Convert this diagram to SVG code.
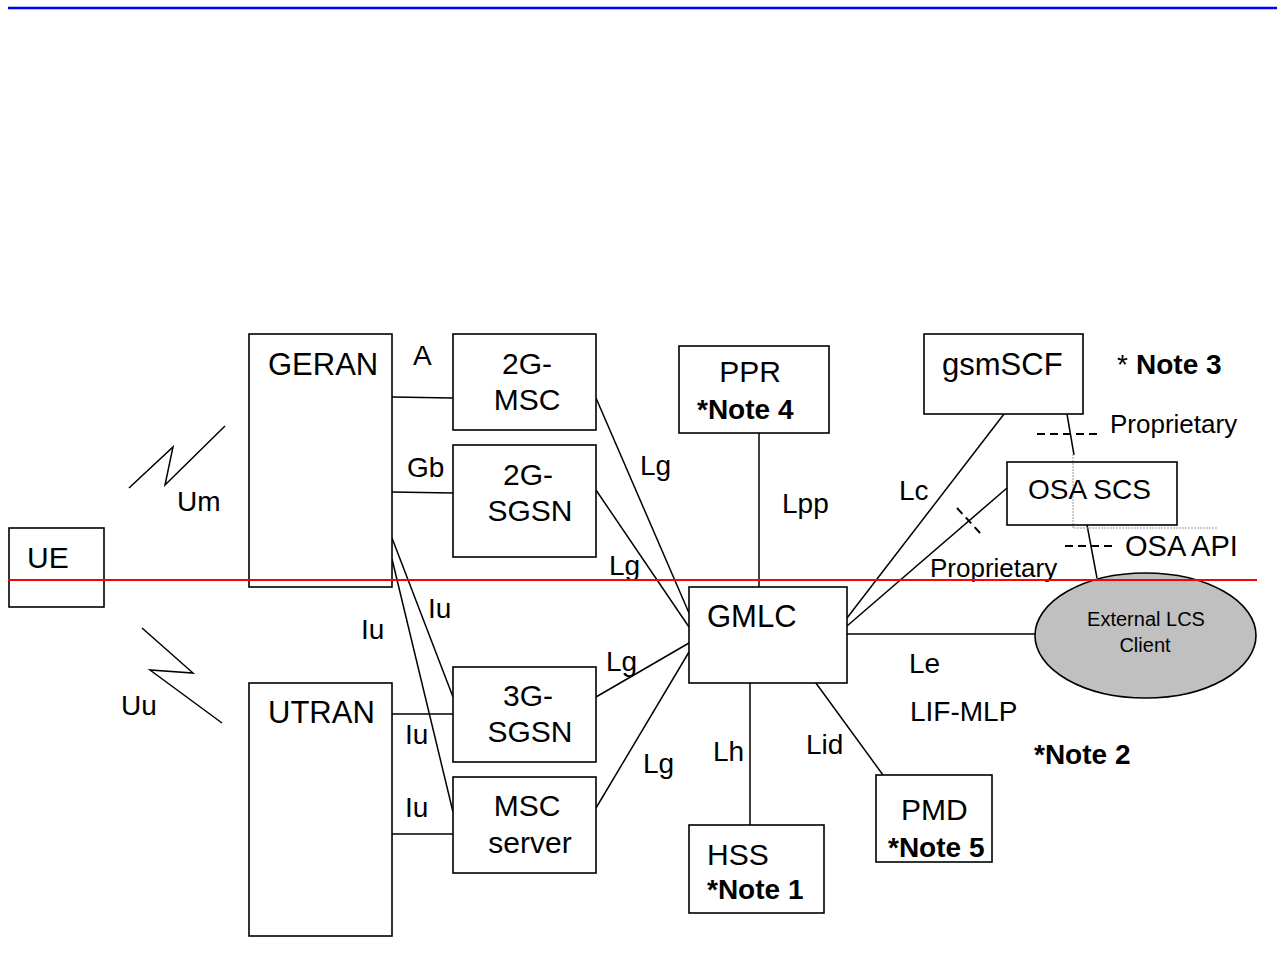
<svg xmlns="http://www.w3.org/2000/svg" width="1282" height="956" viewBox="0 0 1282 956">
<style>
  .box { fill: #fff; stroke: #000; stroke-width: 1.6; }
  .ln { stroke: #000; stroke-width: 1.5; fill: none; }
  .dash { stroke: #000; stroke-width: 2; stroke-dasharray: 8 5; fill: none; }
  text { font-family: "Liberation Sans", Arial, sans-serif; fill: #000; }
  .n { font-size: 30px; }
  .nb { font-size: 31px; }
  .l { font-size: 28px; }
  .b { font-size: 28px; font-weight: bold; }
  .s { font-size: 20px; }
  .m { text-anchor: middle; }
</style>
<rect x="0" y="0" width="1282" height="956" fill="#fff"/>
<line x1="8" y1="8" x2="1277" y2="8" stroke="#0000ff" stroke-width="2.5"/>

<g id="connectors">
  <line class="ln" x1="392" y1="397" x2="453" y2="398"/>
  <line class="ln" x1="392" y1="492" x2="453" y2="493"/>
  <line class="ln" x1="392" y1="538" x2="453" y2="697"/>
  <line class="ln" x1="392" y1="559" x2="453" y2="812"/>
  <line class="ln" x1="392" y1="714" x2="453" y2="714"/>
  <line class="ln" x1="389" y1="834" x2="453" y2="834"/>
  <line class="ln" x1="596" y1="398" x2="689" y2="613"/>
  <line class="ln" x1="596" y1="490" x2="689" y2="627"/>
  <line class="ln" x1="596" y1="697" x2="689" y2="643"/>
  <line class="ln" x1="596" y1="808" x2="689" y2="652"/>
  <line class="ln" x1="759" y1="433" x2="759" y2="587"/>
  <line class="ln" x1="750" y1="683" x2="750" y2="825"/>
  <line class="ln" x1="813" y1="679" x2="883" y2="775"/>
  <line class="ln" x1="1004" y1="414" x2="847" y2="618"/>
  <line class="ln" x1="1007" y1="488" x2="847" y2="626"/>
  <line class="ln" x1="847" y1="634" x2="1035" y2="634"/>
  <line class="ln" x1="1067" y1="414" x2="1074" y2="455"/>
  <line class="ln" x1="1087" y1="525" x2="1097" y2="578"/>
  <line class="dash" x1="957" y1="508" x2="981" y2="534" stroke-dasharray="7 6"/>
  <line class="dash" x1="1037" y1="434" x2="1101" y2="434"/>
  <line class="dash" x1="1065" y1="546" x2="1115" y2="546"/>
  <polyline points="1073,454 1073,528 1218,528" fill="none" stroke="#999" stroke-width="1" stroke-dasharray="2 1"/>
  <polyline class="ln" points="129,488 173,447 165,485 225,426"/>
  <polyline class="ln" points="142,628 193,673 150,670 222,723"/>
</g>

<g id="UE"><rect class="box" x="9" y="528" width="95" height="79"/><text class="n" x="27" y="568">UE</text></g>
<g id="GERAN"><rect class="box" x="249" y="334" width="143" height="253"/><text class="nb" x="268" y="375">GERAN</text></g>
<g id="UTRAN"><rect class="box" x="249" y="683" width="143" height="253"/><text class="nb" x="268" y="723">UTRAN</text></g>
<g id="MSC2G"><rect class="box" x="453" y="334" width="143" height="96"/><text class="n m" x="527" y="374">2G-</text><text class="n m" x="527" y="410">MSC</text></g>
<g id="SGSN2G"><rect class="box" x="453" y="445" width="143" height="112"/><text class="n m" x="528" y="485">2G-</text><text class="n m" x="530" y="521">SGSN</text></g>
<g id="SGSN3G"><rect class="box" x="453" y="667" width="143" height="95"/><text class="n m" x="528" y="706">3G-</text><text class="n m" x="530" y="742">SGSN</text></g>
<g id="MSCserver"><rect class="box" x="453" y="777" width="143" height="96"/><text class="n m" x="527" y="816">MSC</text><text class="n m" x="530" y="853">server</text></g>
<g id="GMLC"><rect class="box" x="689" y="587" width="158" height="96"/><text class="nb" x="707" y="627">GMLC</text></g>
<g id="PPR"><rect class="box" x="679" y="346" width="150" height="87"/><text class="n m" x="750" y="382">PPR</text><text class="b" x="697" y="419">*Note 4</text></g>
<g id="HSS"><rect class="box" x="689" y="825" width="135" height="88"/><text class="n" x="707" y="865">HSS</text><text class="b" x="707" y="899">*Note 1</text></g>
<g id="PMD"><rect class="box" x="876" y="775" width="116" height="87"/><text class="n" x="901" y="820">PMD</text><text class="b" x="888" y="857">*Note 5</text></g>
<g id="gsmSCF"><rect class="box" x="924" y="334" width="159" height="80"/><text class="nb" x="942" y="375">gsmSCF</text></g>
<g id="OSASCS"><rect class="box" x="1007" y="462" width="170" height="63" style="fill:none"/><text class="l" x="1028" y="499">OSA SCS</text></g>
<g id="ExternalLCSClient"><ellipse cx="1145.5" cy="635.5" rx="110.5" ry="62.5" fill="#c0c0c0" stroke="#000" stroke-width="1.6"/><text class="s m" x="1146" y="626">External LCS</text><text class="s m" x="1145" y="652">Client</text></g>

<g id="labels">
  <text class="l" x="413" y="365">A</text>
  <text class="l" x="407" y="477">Gb</text>
  <text class="l" x="640" y="475">Lg</text>
  <text class="l" x="609" y="575">Lg</text>
  <text class="l" x="177" y="511">Um</text>
  <text class="l" x="121" y="715">Uu</text>
  <text class="l" x="428" y="618">Iu</text>
  <text class="l" x="361" y="639">Iu</text>
  <text class="l" x="606" y="671">Lg</text>
  <text class="l" x="405" y="744">Iu</text>
  <text class="l" x="405" y="817">Iu</text>
  <text class="l" x="643" y="773">Lg</text>
  <text class="l" x="782" y="513">Lpp</text>
  <text class="l" x="899" y="500">Lc</text>
  <text class="l" x="930" y="577" style="font-size:26px">Proprietary</text>
  <text class="l" x="1110" y="433" style="font-size:26px">Proprietary</text>
  <text class="l" x="1125" y="556" style="font-size:29px">OSA API</text>
  <text class="l" x="909" y="673">Le</text>
  <text class="l" x="910" y="721">LIF-MLP</text>
  <text class="b" x="1034" y="764">*Note 2</text>
  <text class="l" x="713" y="761">Lh</text>
  <text class="l" x="806" y="754">Lid</text>
  <text x="1117" y="374" class="l">*</text><text class="b" x="1136" y="374">Note 3</text>
</g>
<line x1="8" y1="580" x2="1257" y2="580" stroke="#ff0000" stroke-width="2"/>
</svg>
